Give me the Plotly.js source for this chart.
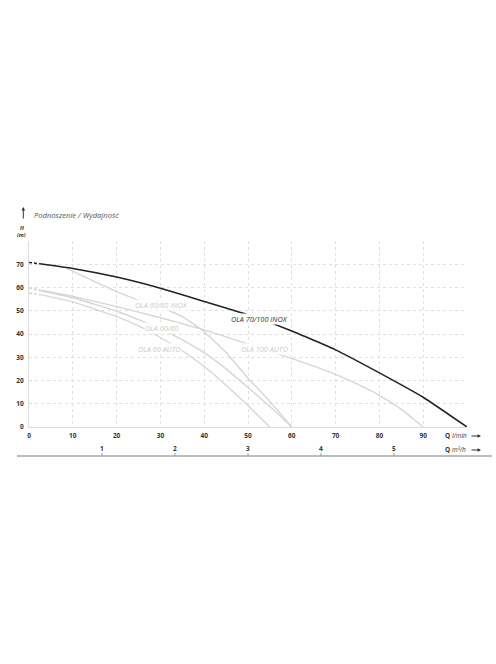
<!DOCTYPE html>
<html>
<head>
<meta charset="utf-8">
<script src="https://cdn.plot.ly/plotly-3.0.1.min.js"></script>
<style>
html,body{margin:0;padding:0;background:#fff;}
#chart{width:496px;height:664px;}
</style>
</head>
<body>
<div id="chart"></div>
<script>
// ---- data (Q in l/min, H in m) ----
const seriesNames = ["OLA 70/100 INOX", "OLA 60/60 INOX", "OLA 60/60", "OLA 60 AUTO", "OLA 100 AUTO"];

const q70100inox = [0, 2.5, 10, 20, 30, 40, 50, 60, 70, 80, 90, 100];
const h70100inox = [70.8, 70.2, 68.2, 64.5, 59.7, 54.0, 48.3, 41.3, 33.2, 23.3, 12.8, 0];

const q6060inox = [8.6, 15, 20, 25, 30, 35, 40, 45, 50, 55, 60];
const h6060inox = [68.2, 62.5, 58.2, 54.6, 51.5, 47.5, 41, 32, 21, 11, 0];

const q6060 = [0, 3, 10, 20, 26, 30, 35, 40, 45, 50, 55, 60];
const h6060 = [59.8, 58.5, 55.6, 49.8, 45.4, 42.2, 37.5, 32, 25, 17, 8.8, 0];

const q60auto = [0, 3, 10, 20, 25, 30, 35, 40, 45, 50, 55];
const h60auto = [57.6, 56.8, 53.8, 47.5, 43.5, 38.5, 32.8, 26, 18, 9.2, 0];

const q100auto = [0, 3, 10, 20, 30, 40, 49, 58.5, 65, 70, 75, 80, 85, 90];
const h100auto = [59.8, 58.7, 56.2, 51.8, 47, 41.8, 36.3, 30.4, 26.2, 22.6, 18.4, 13.6, 7.6, 0];

const xTicks = [0, 10, 20, 30, 40, 50, 60, 70, 80, 90, 100];
const xTickText = ["0", "10", "20", "30", "40", "50", "60", "70", "80", "90", ""];
const yTicks = [0, 10, 20, 30, 40, 50, 60, 70, 80];
const yTickText = ["0", "10", "20", "30", "40", "50", "60", "70", ""];
const m3hTicks = [1, 2, 3, 4, 5];          // Q m³/h
const lminPerM3h = 1000 / 60;              // conversion

// ---- geometry helpers (pixel -> paper) ----
const ML = 29, MR = 29, MT = 241, MB = 237;
const PW = 496 - ML - MR, PH = 664 - MT - MB;
const fx = px => (px - ML) / PW;
const fy = py => (664 - MB - py) / PH;

const gray = "#d6d6d6";
const dark = "#222222";
const FONT = "Open Sans, sans-serif";

function pair(q, h, color, width, name) {
  return [
    {x: q.slice(0, 2), y: h.slice(0, 2), mode: "lines", name: name + " start",
     line: {color: color, width: width, dash: "3px,2px"}, hoverinfo: "skip"},
    {x: q.slice(1), y: h.slice(1), mode: "lines", name: name,
     line: {color: color, width: width, shape: "spline", smoothing: 0.35}}
  ];
}

const traces = [
  ...pair(q100auto, h100auto, gray, 1.4, seriesNames[4]),
  ...pair(q60auto, h60auto, gray, 1.4, seriesNames[3]),
  ...pair(q6060, h6060, gray, 1.4, seriesNames[2]),
  {x: q6060inox, y: h6060inox, mode: "lines", name: seriesNames[1],
   line: {color: gray, width: 1.4, shape: "spline", smoothing: 0.35}},
  ...pair(q70100inox, h70100inox, dark, 1.5, seriesNames[0])
];

// series labels (placed on curves, white box breaks the line)
const labelPos = [
  {x: 52.7, y: 46.6, c: "#333"},
  {x: 30.2, y: 52.6, c: "#cacaca"},
  {x: 30.2, y: 42.7, c: "#cacaca"},
  {x: 29.7, y: 33.7, c: "#cacaca"},
  {x: 53.7, y: 33.7, c: "#cacaca"}
];
const annotations = seriesNames.map((n, i) => ({
  x: labelPos[i].x, y: labelPos[i].y, xref: "x", yref: "y", xanchor: "center", yanchor: "middle",
  text: n, showarrow: false, bgcolor: "#ffffff", borderpad: 0,
  font: {family: FONT, size: 7.3, color: labelPos[i].c, style: "italic"}
}));

function txt(px, py, text, font, xanchor) {
  return {x: fx(px), y: fy(py), xref: "paper", yref: "paper", xanchor: xanchor || "center",
    yanchor: "middle", text: text, showarrow: false, font: font};
}
function arrow(px, py, ax, ay) {
  return {x: fx(px), y: fy(py), xref: "paper", yref: "paper", text: "", showarrow: true,
    ax: ax, ay: ay, arrowhead: 2, arrowsize: 0.7, arrowwidth: 1, arrowcolor: "#333"};
}

annotations.push(
  txt(32, 215, "Podnoszenie / Wydajność", {family: FONT, size: 7.6, color: "#555", style: "italic"}, "left"),
  arrow(23.3, 207, 0, 13),
  txt(21.5, 228, "H", {family: FONT, size: 5.5, color: "#333", style: "italic", weight: 700}),
  txt(21.5, 235, "(m)", {family: FONT, size: 5.5, color: "#333", style: "italic", weight: 700}),
  txt(443, 435.5, "<b>Q</b> <i>l/min</i>", {family: FONT, size: 6.5, color: "#333"}, "left"),
  txt(443, 449.5, "<b>Q</b> <i>m³/h</i>", {family: FONT, size: 6.5, color: "#333"}, "left"),
  arrow(481, 436, -11, 0),
  arrow(481, 450, -11, 0)
);

// secondary scale numbers (m³/h) placed via the x axis
const shapes = [
  {type: "line", xref: "paper", yref: "paper", x0: fx(17), x1: fx(492), y0: fy(456), y1: fy(456),
   line: {color: "#a8a8a8", width: 1.5}}
];
m3hTicks.forEach(v => {
  annotations.push({x: v * lminPerM3h, y: fy(448.5), xref: "x", yref: "paper", xanchor: "center",
    yanchor: "middle", text: String(v), showarrow: false,
    font: {family: FONT, size: 6.5, color: "#333", weight: 700}});
  shapes.push({type: "line", xref: "x", yref: "paper", x0: v * lminPerM3h, x1: v * lminPerM3h,
    y0: fy(453), y1: fy(456), line: {color: "#999", width: 1}});
});

const layout = {
  width: 496, height: 664,
  margin: {l: ML, r: MR, t: MT, b: MB, pad: 0},
  paper_bgcolor: "#fff", plot_bgcolor: "#fff",
  showlegend: false,
  xaxis: {range: [0, 100], tickvals: xTicks, ticktext: xTickText, showgrid: true,
    gridcolor: "#e0e0e0", griddash: "dot", gridwidth: 1, zeroline: false,
    showline: true, linecolor: "#dcdcdc", linewidth: 1,
    ticks: "outside", ticklen: 2, tickcolor: "rgba(0,0,0,0)",
    tickfont: {family: FONT, size: 6.5, color: "#333", weight: 700}, fixedrange: true},
  yaxis: {range: [0, 80], tickvals: yTicks, ticktext: yTickText, showgrid: true,
    gridcolor: "#e0e0e0", griddash: "dot", gridwidth: 1, zeroline: false,
    showline: true, linecolor: "#dcdcdc", linewidth: 1,
    ticks: "outside", ticklen: 3, tickcolor: "rgba(0,0,0,0)",
    tickfont: {family: FONT, size: 6.5, color: "#333", weight: 700}, fixedrange: true},
  annotations: annotations,
  shapes: shapes
};

Plotly.newPlot("chart", traces, layout, {displayModeBar: false, staticPlot: true});
</script>
</body>
</html>
